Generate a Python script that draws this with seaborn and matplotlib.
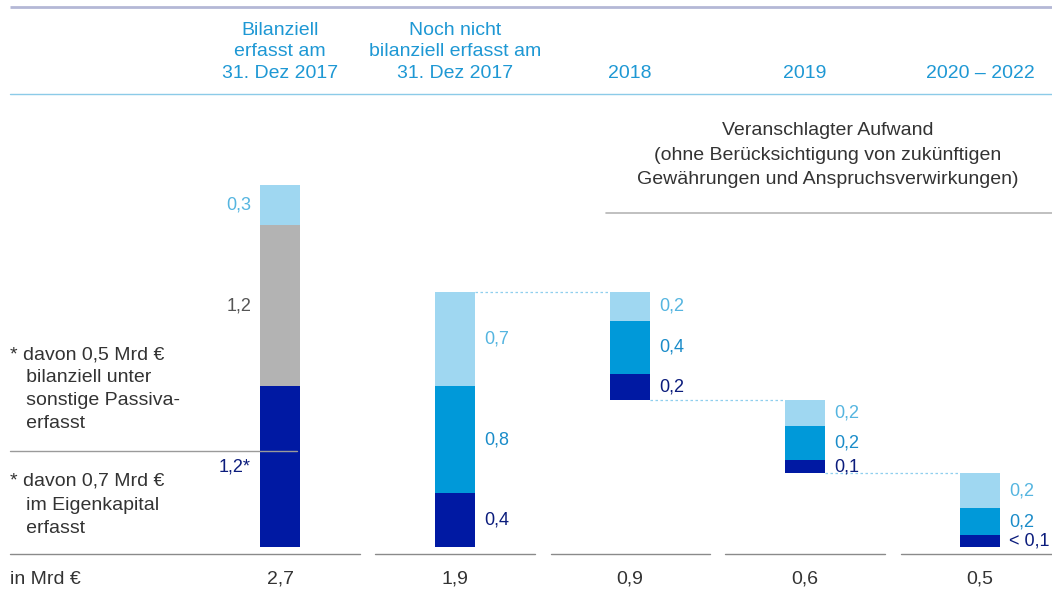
import seaborn as sns
import numpy as np
import matplotlib.pyplot as plt

# data (Mrd EUR)
categories = ["Bilanziell\nerfasst am\n31. Dez 2017",
              "Noch nicht\nbilanziell erfasst am\n31. Dez 2017",
              "2018", "2019", "2020 \u2013 2022"]
totals = ["2,7", "1,9", "0,9", "0,6", "0,5"]

# column 1: dark (equity), gray, light
col1_vals = [1.2, 1.2, 0.3]
col1_labels = ["1,2*", "1,2", "0,3"]
# column 2: dark, mid, light
col2_vals = [0.4, 0.8, 0.7]
col2_labels = ["0,4", "0,8", "0,7"]
# waterfall years: dark, mid, light (heights)
dark_vals = [0.19, 0.10, 0.09]
mid_vals = [0.40, 0.25, 0.20]
light_vals = [0.21, 0.20, 0.26]
dark_labels = ["0,2", "0,1", "< 0,1"]
mid_labels = ["0,4", "0,2", "0,2"]
light_labels = ["0,2", "0,2", "0,2"]

LIGHT = "#9fd7f1"
MID = "#0099d9"
DARK = "#0019a3"
GRAY = "#b3b3b3"
HEAD = "#1e98d4"
TXT = "#333333"
LBL_LIGHT = "#55b5e0"
LBL_MID = "#1a8cc9"
LBL_DARK = "#0b1c7c"

sns.set_theme(style="white")
plt.rcParams['font.family'] = ['Liberation Sans', 'DejaVu Sans']

fig = plt.figure(figsize=(10.52, 5.96), dpi=100)
ax = fig.add_axes([0, 0, 1, 1])
# pixel frame: bar centers every 175 px starting at 280, baseline at 547 px, 134 px per unit
PX_X = 175.0
PX_Y = 134.0
ax.set_xlim(-280 / PX_X, (1052 - 280) / PX_X)
ax.set_ylim(-(596 - 547) / PX_Y, 547 / PX_Y)
ax.axis("off")


def px(x):
    return (x - 280) / PX_X


def py(y):
    return (547 - y) / PX_Y


w = 40 / PX_X
off = 9 / PX_X
FS_VAL = 13
FS_TXT = 14

# column 1
bottom = 0
for v, c, lab, lc in zip(col1_vals, [DARK, GRAY, LIGHT], col1_labels, [LBL_DARK, "#555555", LBL_LIGHT]):
    ax.bar(0, v, bottom=bottom, width=w, color=c, linewidth=0)
    ax.text(0 - w / 2 - off, bottom + v / 2, lab, ha="right", va="center", fontsize=FS_VAL, color=lc)
    bottom += v

# column 2
bottom = 0
for v, c, lab, lc in zip(col2_vals, [DARK, MID, LIGHT], col2_labels, [LBL_DARK, LBL_MID, LBL_LIGHT]):
    ax.bar(1, v, bottom=bottom, width=w, color=c, linewidth=0)
    ax.text(1 + w / 2 + off, bottom + v / 2, lab, ha="left", va="center", fontsize=FS_VAL, color=lc)
    bottom += v

# waterfall
top = sum(col2_vals)
prev_right = 1 + w / 2
for i in range(3):
    xi = 2 + i
    tot = dark_vals[i] + mid_vals[i] + light_vals[i]
    b = top - tot
    ax.plot([prev_right, xi - w / 2], [top, top], color="#8fcfee", lw=0.9, ls=(0, (2, 2)))
    segs = [(dark_vals[i], DARK, dark_labels[i], LBL_DARK),
            (mid_vals[i], MID, mid_labels[i], LBL_MID),
            (light_vals[i], LIGHT, light_labels[i], LBL_LIGHT)]
    bb = b
    for v, c, lab, lc in segs:
        ax.bar(xi, v, bottom=bb, width=w, color=c, linewidth=0)
        ax.text(xi + w / 2 + off, bb + v / 2, lab, ha="left", va="center", fontsize=FS_VAL, color=lc)
        bb += v
    top = b
    prev_right = xi + w / 2

# header
ax.plot([px(10), px(1052)], [py(7), py(7)], color="#b4b8d6", lw=2, solid_capstyle="butt")
ax.plot([px(10), px(1052)], [py(94), py(94)], color="#8ccbe8", lw=1)
for i, cat in enumerate(categories):
    ax.text(i, py(82), cat, ha="center", va="bottom", fontsize=FS_TXT, color=HEAD, linespacing=1.36)

# annotation
ax.text(px(828), py(122), "Veranschlagter Aufwand\n(ohne Berücksichtigung von zukünftigen\n"
        "Gewährungen und Anspruchsverwirkungen)", ha="center", va="top", fontsize=FS_TXT,
        color=TXT, linespacing=1.58)
ax.plot([px(606), px(1052)], [py(213), py(213)], color="#b5b5b5", lw=1.2)

# footnotes
ax.text(px(10), py(346), "* davon 0,5 Mrd €\n   bilanziell unter\n   sonstige Passiva-\n   erfasst",
        ha="left", va="top", fontsize=FS_TXT, color=TXT, linespacing=1.47)
ax.plot([px(10), px(297)], [py(451), py(451)], color="#9a9a9a", lw=1)
ax.text(px(10), py(473), "* davon 0,7 Mrd €\n   im Eigenkapital\n   erfasst",
        ha="left", va="top", fontsize=FS_TXT, color=TXT, linespacing=1.5)

# bottom rule and totals
segments = [(10, 360), (375, 535), (551, 710), (725, 885), (901, 1052)]
for a, b in segments:
    ax.plot([px(a), px(b)], [py(554), py(554)], color="#8a8a8a", lw=1)
ax.text(px(10), py(579), "in Mrd €", ha="left", va="center", fontsize=FS_TXT, color=TXT)
for i, t in enumerate(totals):
    ax.text(i, py(579), t, ha="center", va="center", fontsize=FS_TXT, color=TXT)

fig.savefig("out.png", dpi=100, facecolor="white")
